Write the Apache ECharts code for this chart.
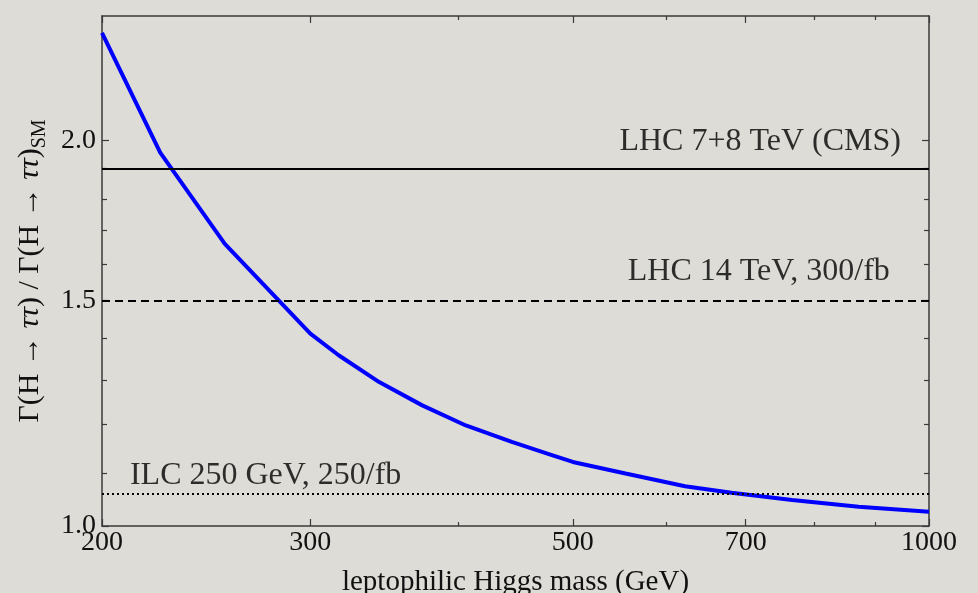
<!DOCTYPE html>
<html>
<head>
<meta charset="utf-8">
<script src="https://cdn.jsdelivr.net/npm/echarts@6/dist/echarts.min.js"></script>
<style>
html,body{margin:0;padding:0;background:#dddcd6;}
#chart{width:978px;height:593px;}
</style>
</head>
<body>
<div id="chart"></div>
<script>
// ---- data ----
const massGeV = [200, 224, 254, 300, 317, 343, 373, 406, 444, 480, 500, 554, 622, 681, 766, 872, 1000];
const ratio   = [2.425, 1.956, 1.660, 1.413, 1.359, 1.295, 1.242, 1.198, 1.163, 1.136, 1.122, 1.099, 1.074, 1.0615, 1.048, 1.035, 1.026];

const refNames  = ['LHC 7+8 TeV (CMS)', 'LHC 14 TeV, 300/fb', 'ILC 250 GeV, 250/fb'];
const refValues = [1.9, 1.5, 1.06];
const refLabelMass  = [720, 718, 275];
const refLabelRatio = [1.994, 1.58, 1.094];

const xMajorTicks = [200, 300, 500, 700, 1000];
const xMinorTicks = [400, 600, 800, 900];
const yMajorTicks = [1.0, 1.5, 2.0];
const yMinorTicks = [1.1, 1.2, 1.3, 1.4, 1.6, 1.7, 1.8, 1.9];

const xRange = [200, 1000];
const yRange = [1.0, 2.5];

// ---- chart ----
const FONT = 'Liberation Serif';
const AX = '#3a3a3a';
const chart = echarts.init(document.getElementById('chart'), null, {renderer: 'canvas'});

function axisBase(kind, pos, ticks, len, opts) {
  const range = kind === 'x' ? xRange : yRange;
  const a = {
    type: 'log', logBase: 10, position: pos,
    min: range[0], max: range[1],
    splitLine: {show: false},
    axisLine: {show: !!opts.line, lineStyle: {color: AX, width: 1.5}},
    axisTick: {show: true, inside: true, length: len, customValues: ticks,
               lineStyle: {color: AX, width: 1.2}},
    axisLabel: {show: false},
    minorTick: {show: false}
  };
  if (opts.labels) {
    a.axisLabel = {
      show: true, customValues: opts.labels, fontFamily: FONT, fontSize: 28, color: '#111',
      margin: kind === 'x' ? 3 : 6,
      formatter: kind === 'x' ? (v => String(Math.round(v))) : (v => Number(v).toFixed(1))
    };
  }
  if (opts.name) Object.assign(a, opts.name);
  return a;
}

const xAxes = [
  axisBase('x', 'bottom', xMajorTicks, 7, {line: true, labels: xMajorTicks, name: {
    name: 'leptophilic Higgs mass (GeV)', nameLocation: 'middle', nameGap: 42,
    nameTextStyle: {fontFamily: FONT, fontSize: 29, color: '#111'}}}),
  axisBase('x', 'bottom', xMinorTicks, 4, {}),
  axisBase('x', 'top', xMajorTicks, 7, {line: true}),
  axisBase('x', 'top', xMinorTicks, 4, {})
];
const yAxes = [
  axisBase('y', 'left', yMajorTicks, 7, {line: true, labels: yMajorTicks, name: {
    name: '{n|Γ(H → }{t|ττ}{n|) / Γ(H → }{t|ττ}{n|)}{s|SM}',
    nameLocation: 'middle', nameGap: 47, nameRotate: 90,
    nameTextStyle: {fontFamily: FONT, fontSize: 30, color: '#111',
      rich: {
        n: {fontFamily: FONT, fontSize: 30, color: '#111', lineHeight: 38, verticalAlign: 'middle'},
        t: {fontFamily: FONT, fontSize: 30, fontStyle: 'italic', color: '#111', lineHeight: 38, verticalAlign: 'middle'},
        s: {fontFamily: FONT, fontSize: 20, color: '#111', lineHeight: 20, padding: [19, 0, 0, 0], verticalAlign: 'top'}
      }}}}),
  axisBase('y', 'left', yMinorTicks, 5, {}),
  axisBase('y', 'right', yMajorTicks, 7, {line: true}),
  axisBase('y', 'right', yMinorTicks, 5, {})
];

const lineStyles = [
  {type: 'solid', width: 2},
  {type: [8, 5], width: 2},
  {type: [2, 3], width: 1.8}
];

const refLineData = refValues.map((v, i) => ({
  yAxis: v,
  lineStyle: Object.assign({color: '#000'}, lineStyles[i])
}));

const labelData = refNames.map((n, i) => [refLabelMass[i], refLabelRatio[i], n]);

chart.setOption({
  animation: false,
  backgroundColor: '#dddcd6',
  grid: {left: 102, right: 49, top: 16, bottom: 67, containLabel: false, outerBoundsMode: 'none'},
  xAxis: xAxes,
  yAxis: yAxes,
  series: [
    {
      type: 'line', name: 'refs', data: [], z: 1,
      markLine: {silent: true, symbol: 'none', label: {show: false}, data: refLineData}
    },
    {
      type: 'line', name: 'ratio', z: 3,
      data: massGeV.map((m, i) => [m, ratio[i]]),
      showSymbol: false, smooth: false,
      lineStyle: {color: '#0000ff', width: 4}
    },
    {
      type: 'scatter', name: 'labels', z: 4, symbolSize: 0,
      data: labelData,
      label: {show: true, position: 'inside', formatter: p => p.data[2],
        fontFamily: FONT, fontSize: 32, color: '#000'}
    }
  ]
});
</script>
</body>
</html>
